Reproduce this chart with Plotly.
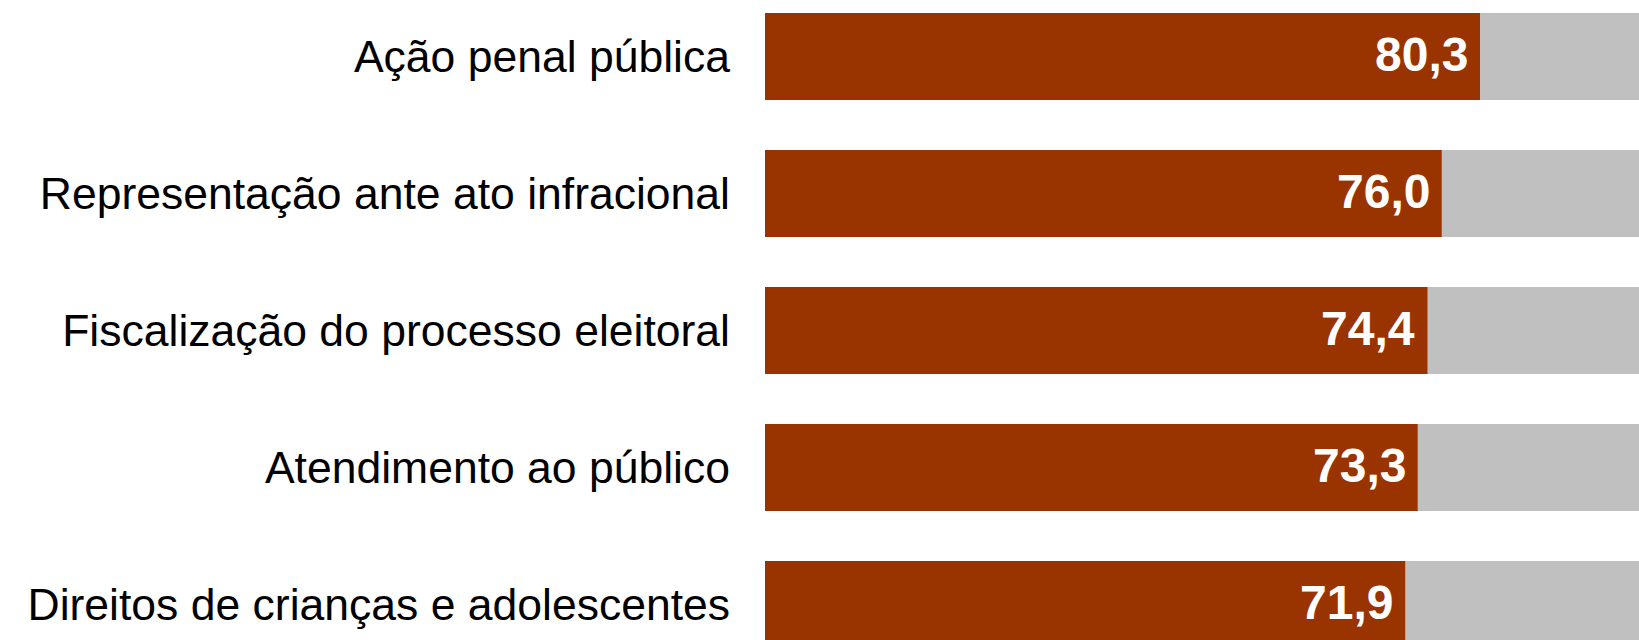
import plotly.graph_objects as go

categories = [
    "Ação penal pública",
    "Representação ante ato infracional",
    "Fiscalização do processo eleitoral",
    "Atendimento ao público",
    "Direitos de crianças e adolescentes",
]
values = [80.3, 76.0, 74.4, 73.3, 71.9]
totals = [100, 100, 100, 100, 100]
value_labels = ["80,3", "76,0", "74,4", "73,3", "71,9"]

RED = "#993300"
GRAY = "#C0C0C0"

fig = go.Figure()
fig.add_trace(go.Bar(
    y=categories, x=totals, orientation="h",
    marker=dict(color=GRAY, line=dict(width=0)),
    width=0.635, hoverinfo="skip", showlegend=False,
))
fig.add_trace(go.Bar(
    y=categories, x=values, orientation="h",
    marker=dict(color=RED, line=dict(width=0)),
    width=0.635, showlegend=False,
))

for cat, v, lab in zip(categories, values, value_labels):
    fig.add_annotation(
        x=v, y=cat, text=lab, showarrow=False,
        xanchor="right", yanchor="middle", xshift=-10, yshift=2,
        font=dict(family="Liberation Sans, Arial, sans-serif", size=48, color="white", weight="bold"),
    )

fig.update_layout(
    width=1639, height=640,
    margin=dict(l=765, r=0, t=0, b=0, pad=0),
    paper_bgcolor="white", plot_bgcolor="white",
    barmode="overlay",
    xaxis=dict(range=[0, (1639 - 765) / 8.904], visible=False, fixedrange=True),
    yaxis=dict(
        categoryorder="array", categoryarray=categories,
        range=[4.259, -0.412],
        showgrid=False, zeroline=False, showline=False, ticks="",
        ticklabelstandoff=34, fixedrange=True,
        tickfont=dict(family="Liberation Sans, Arial, sans-serif", size=44.5, color="black"),
    ),
)

fig.write_html(
    "out.html",
    config={"displayModeBar": False},
    post_script="document.body.style.margin='0';document.body.style.overflow='hidden';",
)
